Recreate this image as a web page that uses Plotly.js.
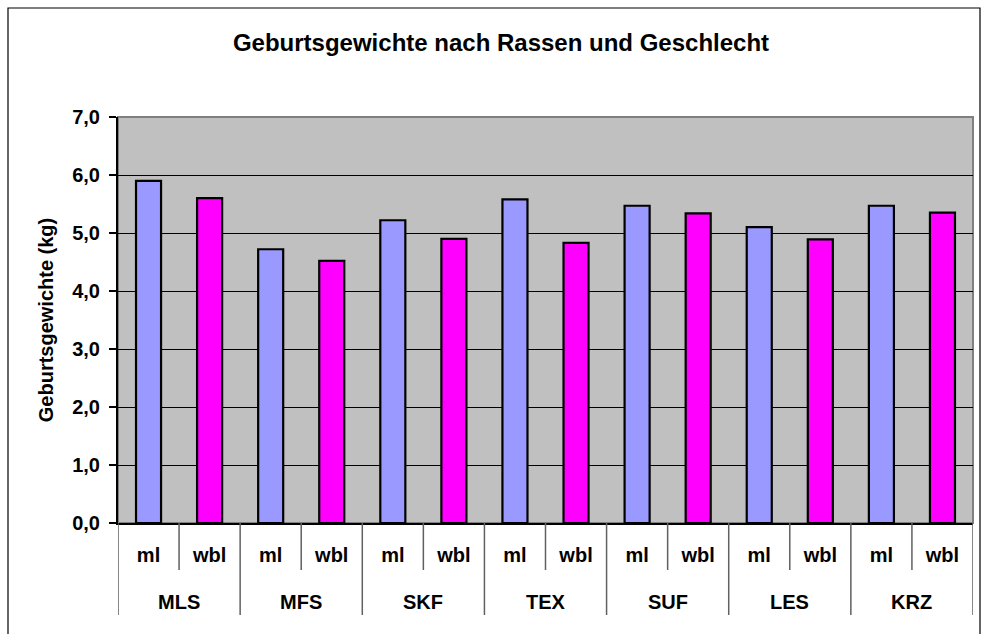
<!DOCTYPE html>
<html>
<head>
<meta charset="utf-8">
<script src="https://cdn.plot.ly/plotly-3.0.1.min.js"></script>
<style>
html,body{margin:0;padding:0;background:#fff;}
#chart{width:984px;height:634px;}
</style>
</head>
<body>
<div id="chart"></div>
<script>
const groups = ['MLS','MFS','SKF','TEX','SUF','LES','KRZ'];
const sexes = ['ml','wbl'];
const mlValues = [5.9, 4.72, 5.22, 5.58, 5.47, 5.1, 5.47];
const wblValues = [5.6, 4.52, 4.9, 4.83, 5.34, 4.89, 5.35];
const titleText = 'Geburtsgewichte nach Rassen und Geschlecht';
const yTitleText = 'Geburtsgewichte (kg)';
const yTicks = [0,1,2,3,4,5,6,7];

const FONT = 'Liberation Sans, Arial, sans-serif';
const nCat = groups.length * sexes.length;
const mlX = groups.map((g,i)=>i*2);
const wblX = groups.map((g,i)=>i*2+1);
const tickvals = [];
const ticktext = [];
groups.forEach((g,i)=>sexes.forEach((s,j)=>{tickvals.push(i*2+j);ticktext.push(s);}));

const W=984,H=634;
const mL=118, mR=11, mT=117, mB=111;
const plotW=W-mL-mR, plotH=H-mT-mB;

const shapes=[];
// plot area border
shapes.push({type:'rect',xref:'paper',yref:'paper',x0:0,x1:1,y0:0,y1:1,line:{color:'#808080',width:2},layer:'below'});
// sub dividers (between ml and wbl)
groups.forEach((g,i)=>{
  shapes.push({type:'line',xref:'x',yref:'paper',x0:i*2+0.5,x1:i*2+0.5,y0:0,y1:-(570-523)/plotH,line:{color:'#606060',width:1.5}});
});
// group dividers
for(let i=0;i<=groups.length;i++){
  shapes.push({type:'line',xref:'x',yref:'paper',x0:i*2-0.5,x1:i*2-0.5,y0:0,y1:-(615-523)/plotH,line:{color:'#606060',width:1.5}});
}
// outer chart frame
shapes.push({type:'rect',xref:'paper',yref:'paper',
  x0:(8-mL)/plotW, x1:(980-mL)/plotW, y0:1+(mT-8)/plotH, y1:-(H+10-(H-mB))/plotH,
  line:{color:'#000',width:1.2}});

const annotations = groups.map((g,i)=>({
  x:i*2+0.5, xref:'x', y:-(602-523)/plotH, yref:'paper', yanchor:'middle', xanchor:'center',
  text:g, showarrow:false, font:{family:FONT,size:20,color:'#000',weight:700}
}));

const traceStyle = {type:'bar', width:0.41, hoverinfo:'y'};
const data=[
  Object.assign({}, traceStyle, {name:'ml', x:mlX, y:mlValues, marker:{color:'#9999FF',line:{color:'#000',width:2.2}}}),
  Object.assign({}, traceStyle, {name:'wbl', x:wblX, y:wblValues, marker:{color:'#FF00FF',line:{color:'#000',width:2.2}}})
];

const layout={
  width:W,height:H,
  margin:{l:mL,r:mR,t:mT,b:mB,pad:0},
  paper_bgcolor:'#fff',
  plot_bgcolor:'#C0C0C0',
  separators:',.',
  showlegend:false,
  barmode:'overlay',
  title:{text:titleText, x:501/W, xanchor:'center', xref:'container', y:1-43/H, yanchor:'middle', yref:'container',
    font:{family:FONT,size:24,color:'#000',weight:700}},
  xaxis:{type:'linear', range:[-0.5,nCat-0.5], tickvals:tickvals, ticktext:ticktext, ticks:'', showgrid:false, zeroline:false,
    showline:true, linecolor:'#000', linewidth:1.5, ticklabelstandoff:13,
    tickfont:{family:FONT,size:20,color:'#000',weight:700}},
  yaxis:{range:[0,7], tickvals:yTicks, tickformat:'.1f', ticks:'outside', ticklen:7, tickcolor:'#000', tickwidth:1.5,
    showgrid:true, gridcolor:'#000', gridwidth:1, zeroline:false, showline:true, linecolor:'#000', linewidth:2,
    ticklabelstandoff:5,
    tickfont:{family:FONT,size:20,color:'#000',weight:700},
    title:{text:yTitleText, standoff:13, font:{family:FONT,size:20,color:'#000',weight:700}}},
  shapes:shapes,
  annotations:annotations
};
Plotly.newPlot('chart', data, layout, {displayModeBar:false, staticPlot:true});
</script>
</body>
</html>
